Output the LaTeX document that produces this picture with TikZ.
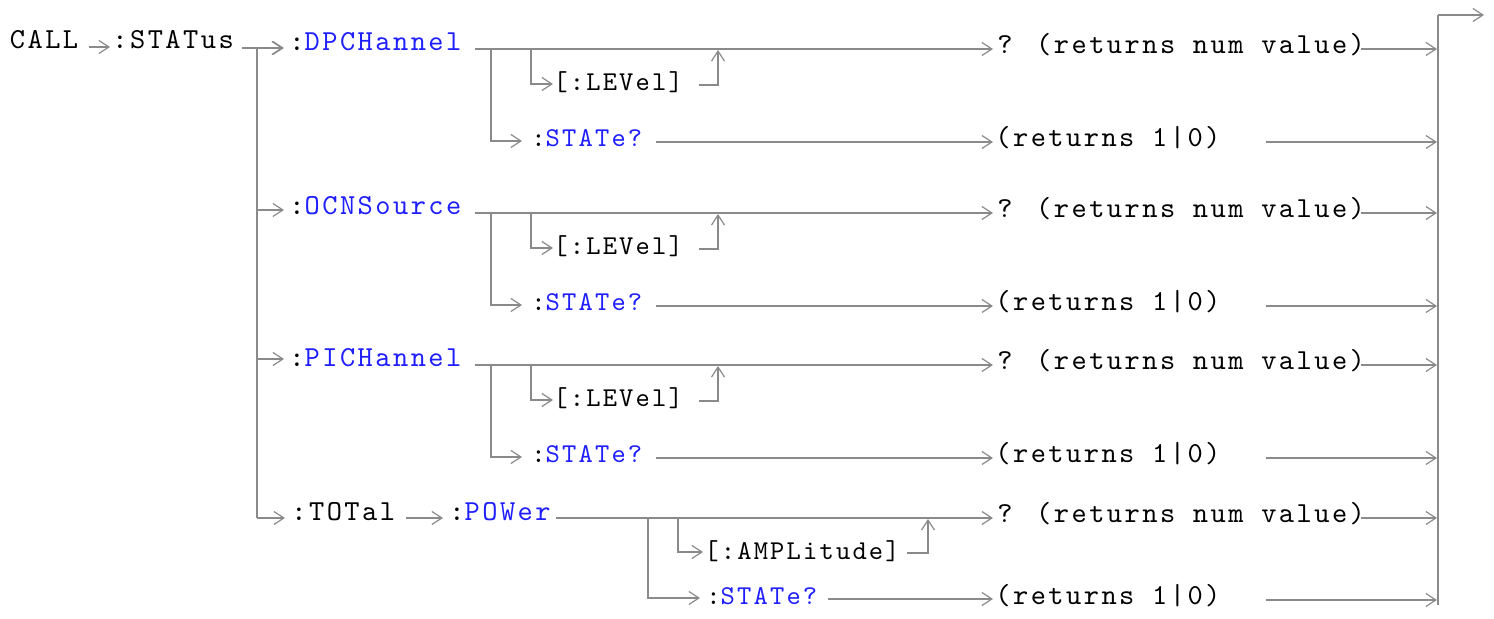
\documentclass[tikz,border=0pt]{standalone}
\usepackage{fontspec}
\newfontfamily\courbig{lmmono10-regular}[Extension=.otf,LetterSpace=8.5]
\newfontfamily\coursm{lmmono10-regular}[Extension=.otf,LetterSpace=8]
\usetikzlibrary{arrows.meta,calc}
\definecolor{lnc}{RGB}{138,138,138}
\definecolor{kw}{RGB}{30,30,255}
\begin{document}
\begin{tikzpicture}[x=0.5pt,y=-0.5pt,
  ln/.style={draw=lnc,line width=0.9pt},
  ar/.style={ln,-{Straight Barb[length=5pt,width=6.5pt,line width=0.6pt]}},
  big/.style={inner sep=0pt,anchor=base west,font=\courbig\fontsize{14.5pt}{16pt}\selectfont},
  sm/.style={inner sep=0pt,anchor=base west,font=\coursm\fontsize{13.6pt}{15pt}\selectfont},
]
\useasboundingbox (0,0) rectangle (1494,619);

% header
\node[big] (call) at (9.5,49) {CALL};
\node[big] (status) at (112,49) {:STATus};
\draw[ar] (89,47) -- (110,47);
\draw[ar] (242,48) -- (283,48);
\coordinate (trtop) at (257,48);
\coordinate (trbot) at (257,518);
\draw[ln] (trtop) -- (trbot);

% three similar groups
\foreach \nm/\o/\ain in {DPCHannel/0/48, OCNSource/164/210, PICHannel/316/359}{
  \node[big] (k\nm) at (289,51+\o) {:\textcolor{kw}{\nm}};
  \draw[ar] (257,\ain) -- (284,\ain);
  \node[sm] (lv\nm) at (553,91+\o) {[:LEVel]};
  \node[sm] (st\nm) at (531,147+\o) {:\textcolor{kw}{STATe?}};
  \node[big] (q\nm) at (997,54+\o) {? (returns num value)};
  \node[big] (r\nm) at (995,147+\o) {(returns 1|0)};
  \draw[ar] (475,49+\o) -- (993,49+\o);
  \draw[ar] (491,49+\o) -- (491,141+\o) -- (522,141+\o);
  \draw[ar] (531,49+\o) -- (531,84+\o) -- (553,84+\o);
  \draw[ar] (699,85+\o) -- (718,85+\o) -- (718,50+\o);
  \draw[ar] (656,142+\o) -- (993,142+\o);
  \draw[ar] (1361,49+\o) -- (1437,49+\o);
  \draw[ar] (1266,142+\o) -- (1437,142+\o);
}

% TOTal group
\draw[ar] (trbot) -- (285,518);
\node[big] (total) at (291,521) {:TOTal};
\draw[ar] (406,518) -- (443,518);
\node[big] (power) at (449,521) {:\textcolor{kw}{POWer}};
\draw[ar] (556,518) -- (993,518);
\draw[ar] (648,518) -- (648,598) -- (700,598);
\draw[ar] (678,518) -- (678,552) -- (703,552);
\node[sm] (ampl) at (704,560) {[:AMPLitude]};
\node[sm] (st4) at (706,605) {:\textcolor{kw}{STATe?}};
\draw[ar] (907,553) -- (928,553) -- (928,519);
\draw[ar] (828,599) -- (993,599);
\node[big] (q4) at (997,523) {? (returns num value)};
\node[big] (r4) at (995,605) {(returns 1|0)};
\draw[ar] (1361,518) -- (1437,518);
\draw[ar] (1266,600) -- (1437,600);

% right bar
\coordinate (bartop) at (1438,15);
\coordinate (barbot) at (1438,605);
\draw[ln] (barbot) -- (bartop);
\draw[ar] (bartop) -- (1484,15);
\end{tikzpicture}
\end{document}
